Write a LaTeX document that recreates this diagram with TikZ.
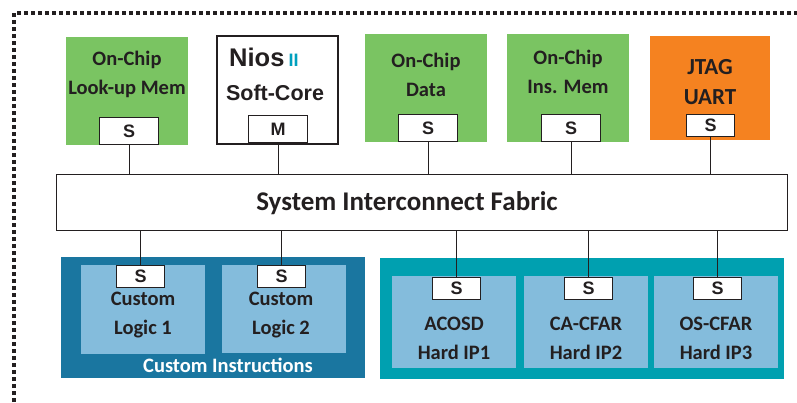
\documentclass[tikz,border=0pt]{standalone}
\usepackage{fontspec}
\setmainfont{Carlito}
\newfontfamily\portfont{Liberation Sans}
\usetikzlibrary{positioning}
\definecolor{memgreen}{RGB}{122,196,98}
\definecolor{jtagorange}{RGB}{245,130,32}
\definecolor{ciblue}{RGB}{26,118,160}
\definecolor{hwteal}{RGB}{0,160,176}
\definecolor{cellblue}{RGB}{132,188,220}
\definecolor{niosteal}{RGB}{0,160,190}
\definecolor{textgray}{RGB}{35,31,32}
\tikzstyle{block}=[minimum width=122pt, minimum height=108pt, inner sep=0pt, anchor=north west]
\tikzstyle{mem}=[block, fill=memgreen]
\tikzstyle{cell}=[minimum width=124pt, inner sep=0pt, anchor=north west, fill=cellblue]
\tikzstyle{port}=[draw=textgray, fill=white, line width=1.4pt, minimum width=59pt, minimum height=27pt, inner sep=0pt, anchor=north west, text=textgray, font=\portfont\bfseries\fontsize{18}{18}\selectfont]
\tikzstyle{sport}=[port, minimum width=48pt, minimum height=22pt]
\tikzstyle{lbl}=[align=center, text=textgray, inner sep=0pt, font=\bfseries\fontsize{20.5}{29}\selectfont]
\tikzstyle{edge}=[draw, line width=1.4pt, textgray]

\begin{document}
\begin{tikzpicture}[x=1pt, y=-1pt]
	\useasboundingbox (0,0) rectangle (797,402);

	% dotted frame
	\draw[line width=4pt, dash pattern=on 4pt off 3pt, textgray] (14,402) -- (14,13) -- (797,13);

	% top row
	\node[mem] (lum) at (66,37) {};
	\node[block, draw=textgray, line width=1.6pt, fill=white, minimum width=121pt] (nios) at (216,35) {};
	\node[mem] (data) at (365,34) {};
	\node[mem] (ins) at (507,34) {};
	\node[block, fill=jtagorange, minimum width=120pt, minimum height=104pt] (jtag) at (650,36) {};

	\node[lbl] (lumtxt) at (127,74) {On-Chip\\Look-up Mem};
	\node[lbl] (datatxt) at (426,75) {On-Chip\\Data};
	\node[lbl] (instxt) at (568,72) {On-Chip\\Ins. Mem};
	\node[lbl, font=\bfseries\fontsize{23}{30}\selectfont] (jtagtxt) at (710,82) {JTAG\\UART};
	\node[text=textgray, inner sep=0pt, anchor=base west, font=\portfont\bfseries\fontsize{25.5}{25.5}\selectfont] (niostxt) at (229,66) {Nios\,{\color{niosteal}\fontsize{18}{18}\selectfont II}};
	\node[text=textgray, inner sep=0pt, anchor=base, font=\portfont\bfseries\fontsize{21.5}{21.5}\selectfont] (softtxt) at (275,100) {Soft-Core};

	\node[port] (plum) at (99,117) {S};
	\node[port] (pnios) at (248,115) {M};
	\node[port] (pdata) at (398,114) {S};
	\node[port] (pins) at (541,114) {S};
	\node[sport] (pjtag) at (686,114) {S};

	% fabric
	\node[draw=textgray, line width=1.4pt, fill=white, minimum width=731pt, minimum height=56pt, anchor=north west] (bus) at (56,174) {};
	\node[text=textgray, inner sep=0pt, font=\bfseries\fontsize{27}{27}\selectfont] (bustxt) at (407,203) {System Interconnect Fabric};

	\foreach \p in {plum, pnios, pdata, pins, pjtag}{
		\draw[edge] (\p.south) -- (\p.south |- bus.north);
	}

	% custom instructions
	\node[fill=ciblue, minimum width=304pt, minimum height=121pt, anchor=north west] (ci) at (61,257) {};
	\node[cell, minimum height=89pt] (cl1) at (81,265) {};
	\node[cell, minimum height=88pt] (cl2) at (222,265) {};
	\node[lbl] (cl1txt) at (143,315) {Custom\\Logic 1};
	\node[lbl] (cl2txt) at (281,315) {Custom\\Logic 2};
	\node[lbl, text=white] (citxt) at (228,365) {Custom Instructions};

	% hard IP
	\node[fill=hwteal, minimum width=404pt, minimum height=121pt, anchor=north west] (hw) at (380,258) {};
	\node[cell, minimum height=92pt] (ip1) at (392,276) {};
	\node[cell, minimum height=92pt] (ip2) at (524,276) {};
	\node[cell, minimum height=92pt] (ip3) at (654,276) {};
	\node[lbl] (ip1txt) at (454,338) {ACOSD\\Hard IP1};
	\node[lbl] (ip2txt) at (586,338) {CA-CFAR\\Hard IP2};
	\node[lbl] (ip3txt) at (716,338) {OS-CFAR\\Hard IP3};

	\node[sport] (pcl1) at (116,265) {S};
	\node[sport] (pcl2) at (257,265) {S};
	\node[sport] (pip1) at (432,277) {S};
	\node[sport] (pip2) at (564,277) {S};
	\node[sport] (pip3) at (693,277) {S};

	\foreach \p in {pcl1, pcl2, pip1, pip2, pip3}{
		\draw[edge] (\p.north) -- (\p.north |- bus.south);
	}
\end{tikzpicture}
\end{document}
